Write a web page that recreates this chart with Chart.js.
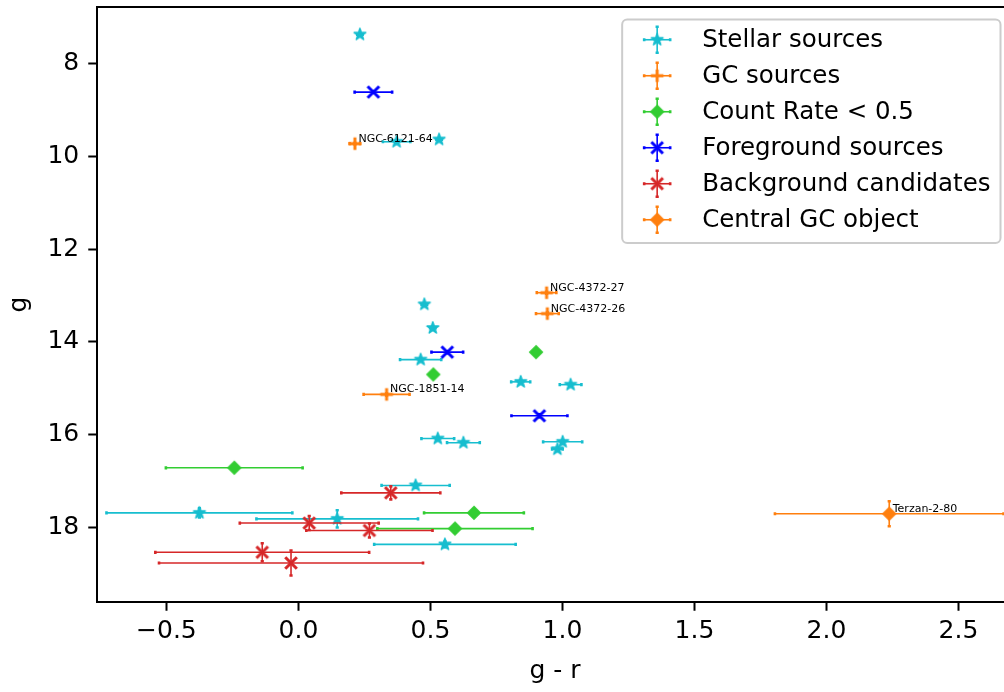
<!DOCTYPE html>
<html>
<head>
<meta charset="utf-8">
<title>g vs g - r</title>
<script src="https://cdn.jsdelivr.net/npm/chart.js@4.4.1/dist/chart.umd.min.js"></script>
<style>
  html, body { margin: 0; padding: 0; background: #fff; overflow: hidden; }
  canvas { display: block; }
</style>
</head>
<body>
<canvas id="cmd" width="1014" height="692"></canvas>
<script>
/* colour-magnitude diagram: g-r colour vs g magnitude, with errors */

// Stellar sources
const stellarX    = [0.233, 0.372, 0.533, 0.477, 0.509, 0.463, 0.842, 1.031, 0.528, 0.625, 1.001, 0.981, 0.444, -0.375, 0.147, 0.555];
const stellarY    = [7.38, 9.69, 9.64, 13.19, 13.70, 14.38, 14.86, 14.92, 16.08, 16.17, 16.15, 16.31, 17.09, 17.68, 17.81, 18.36];
const stellarXErr = [0.01, 0.052, 0.01, 0.01, 0.01, 0.078, 0.036, 0.041, 0.062, 0.062, 0.074, 0.02, 0.129, 0.352, 0.306, 0.268];
const stellarYErr = [0.01, 0.01, 0.01, 0.01, 0.01, 0.02, 0.02, 0.02, 0.03, 0.03, 0.03, 0.03, 0.05, 0.1, 0.187, 0.06];

// GC sources
const gcX     = [0.214, 0.940, 0.943, 0.334];
const gcY     = [9.73, 12.94, 13.39, 15.13];
const gcXErr  = [0.02, 0.037, 0.043, 0.087];
const gcYErr  = [0.01, 0.02, 0.02, 0.02];
const gcNames = ['NGC-6121-64', 'NGC-4372-27', 'NGC-4372-26', 'NGC-1851-14'];

// Count rate < 0.5
const crX    = [0.900, 0.511, -0.243, 0.665, 0.593];
const crY    = [14.22, 14.70, 16.71, 17.68, 18.02];
const crXErr = [0.01, 0.01, 0.259, 0.189, 0.294];
const crYErr = [0.02, 0.02, 0.05, 0.08, 0.08];

// Foreground sources
const fgX    = [0.284, 0.564, 0.913];
const fgY    = [8.62, 14.22, 15.59];
const fgXErr = [0.071, 0.06, 0.106];
const fgYErr = [0.01, 0.02, 0.03];

// Background candidates
const bgX    = [0.350, 0.041, 0.269, -0.137, -0.028];
const bgY    = [17.25, 17.90, 18.06, 18.53, 18.76];
const bgXErr = [0.1875, 0.263, 0.239, 0.405, 0.5];
const bgYErr = [0.14, 0.15, 0.15, 0.194, 0.27];

// Central GC object
const cenX     = [2.238];
const cenY     = [17.70];
const cenXErr  = [0.433];
const cenYErr  = [0.27];
const cenNames = ['Terzan-2-80'];

const xTicks = [-0.5, 0.0, 0.5, 1.0, 1.5, 2.0, 2.5];
const yTicks = [8, 10, 12, 14, 16, 18];

const FONT = 'DejaVu Sans';

// matplotlib-like marker glyphs drawn once into small canvases
function makeMarker(kind, color) {
  const c = document.createElement('canvas');
  c.width = c.height = 20;
  const ctx = c.getContext('2d');
  ctx.translate(10, 10);
  ctx.fillStyle = color;
  ctx.strokeStyle = color;
  ctx.lineWidth = 3;
  ctx.beginPath();
  if (kind === 'star') {
    const R = 6.1, r = R * 0.382;
    for (let i = 0; i < 10; i++) {
      const a = -Math.PI / 2 + i * Math.PI / 5;
      const rr = i % 2 ? r : R;
      ctx.lineTo(rr * Math.cos(a), rr * Math.sin(a));
    }
    ctx.closePath();
    ctx.lineWidth = 1.6;
    ctx.lineJoin = 'round';
    ctx.fill();
    ctx.stroke();
  } else if (kind === 'plus') {
    ctx.moveTo(-6.3, 0); ctx.lineTo(6.3, 0);
    ctx.moveTo(0, -6.3); ctx.lineTo(0, 6.3);
    ctx.stroke();
  } else if (kind === 'x') {
    ctx.moveTo(-5.8, -5.8); ctx.lineTo(5.8, 5.8);
    ctx.moveTo(-5.8, 5.8); ctx.lineTo(5.8, -5.8);
    ctx.stroke();
  } else if (kind === 'diamond') {
    const d = 6.5;
    ctx.moveTo(0, -d); ctx.lineTo(d, 0); ctx.lineTo(0, d); ctx.lineTo(-d, 0);
    ctx.closePath();
    ctx.lineWidth = 1.2;
    ctx.fill();
    ctx.stroke();
  }
  return c;
}

const series = [
  { label: 'Stellar sources',       color: '#17becf', marker: 'star',    x: stellarX, y: stellarY, xerr: stellarXErr, yerr: stellarYErr },
  { label: 'GC sources',            color: '#ff7f0e', marker: 'plus',    x: gcX,      y: gcY,      xerr: gcXErr,      yerr: gcYErr, names: gcNames },
  { label: 'Count Rate < 0.5',      color: '#32cd32', marker: 'diamond', x: crX,      y: crY,      xerr: crXErr,      yerr: crYErr },
  { label: 'Foreground sources',    color: '#0000ff', marker: 'x',       x: fgX,      y: fgY,      xerr: fgXErr,      yerr: fgYErr },
  { label: 'Background candidates', color: '#d62728', marker: 'x',       x: bgX,      y: bgY,      xerr: bgXErr,      yerr: bgYErr },
  { label: 'Central GC object',     color: '#ff7f0e', marker: 'diamond', x: cenX,     y: cenY,     xerr: cenXErr,     yerr: cenYErr, names: cenNames }
];
series.forEach(s => { s.img = makeMarker(s.marker, s.color); });

// error bar with small caps
function drawErrLine(ctx, x0, y0, x1, y1, horizontal) {
  ctx.beginPath();
  ctx.moveTo(x0, y0);
  ctx.lineTo(x1, y1);
  ctx.stroke();
  const c = 1.6;
  ctx.beginPath();
  if (horizontal) {
    ctx.moveTo(x0, y0 - c); ctx.lineTo(x0, y0 + c);
    ctx.moveTo(x1, y1 - c); ctx.lineTo(x1, y1 + c);
  } else {
    ctx.moveTo(x0 - c, y0); ctx.lineTo(x0 + c, y0);
    ctx.moveTo(x1 - c, y1); ctx.lineTo(x1 + c, y1);
  }
  ctx.save();
  ctx.lineWidth = 2.6;
  ctx.stroke();
  ctx.restore();
}

const errorBars = {
  id: 'errorBars',
  beforeDatasetDraw(chart, args) {
    const s = series[args.index];
    const { ctx, chartArea: a } = chart;
    const xs = chart.scales.x, ys = chart.scales.y;
    ctx.save();
    ctx.beginPath();
    ctx.rect(a.left, a.top, a.right - a.left, a.bottom - a.top);
    ctx.clip();
    ctx.strokeStyle = s.color;
    ctx.lineWidth = 1.6;
    s.x.forEach((xv, j) => {
      const yv = s.y[j];
      const px = xs.getPixelForValue(xv), py = ys.getPixelForValue(yv);
      drawErrLine(ctx, xs.getPixelForValue(xv - s.xerr[j]), py, xs.getPixelForValue(xv + s.xerr[j]), py, true);
      drawErrLine(ctx, px, ys.getPixelForValue(yv - s.yerr[j]), px, ys.getPixelForValue(yv + s.yerr[j]), false);
    });
    ctx.restore();
  }
};

// object names next to the GC markers, top spine and the boxed legend
const decorations = {
  id: 'decorations',
  afterDraw(chart) {
    const { ctx, chartArea: a } = chart;
    const xs = chart.scales.x, ys = chart.scales.y;
    ctx.save();

    ctx.fillStyle = '#000';
    ctx.font = '11px "' + FONT + '"';
    ctx.textAlign = 'left';
    ctx.textBaseline = 'alphabetic';
    series.forEach(s => {
      if (!s.names) return;
      s.names.forEach((n, j) => {
        ctx.fillText(n, xs.getPixelForValue(s.x[j]) + 3.5, ys.getPixelForValue(s.y[j]) - 2);
      });
    });

    ctx.strokeStyle = '#000';
    ctx.lineWidth = 2;
    ctx.beginPath();
    ctx.moveTo(a.left - 1, a.top);
    ctx.lineTo(a.right, a.top);
    ctx.stroke();

    // legend
    const fs = 25;
    ctx.font = '24.5px "' + FONT + '"';
    const textW = Math.max(...series.map(s => ctx.measureText(s.label).width));
    const pad = 0.4 * fs, handle = 2 * fs, gap = 0.8 * fs, rowH = 23.5, spacing = 0.5 * fs;
    const w = pad + handle + gap + textW + pad;
    const h = 2 * pad + series.length * rowH + (series.length - 1) * spacing;
    const right = a.right - 0.5 * fs, top = a.top + 0.5 * fs, left = right - w;
    ctx.beginPath();
    ctx.roundRect(left, top, w, h, 5);
    ctx.fillStyle = 'rgba(255,255,255,0.8)';
    ctx.fill();
    ctx.strokeStyle = '#cccccc';
    ctx.lineWidth = 2;
    ctx.stroke();

    ctx.textBaseline = 'middle';
    series.forEach((s, i) => {
      const cy = top + pad + rowH / 2 + i * (rowH + spacing) - 1.5;
      const cx = left + pad + handle / 2;
      ctx.strokeStyle = s.color;
      ctx.lineWidth = 1.6;
      drawErrLine(ctx, cx - 13, cy, cx + 13, cy, true);
      drawErrLine(ctx, cx, cy - 13, cx, cy + 13, false);
      ctx.drawImage(s.img, cx - s.img.width / 2, cy - s.img.height / 2);
      ctx.fillStyle = '#000';
      ctx.fillText(s.label, left + pad + handle + gap, cy + 1);
    });
    ctx.restore();
  }
};

const fmtX = v => v.toFixed(1).replace('-', '\u2212');

new Chart(document.getElementById('cmd'), {
  type: 'scatter',
  data: {
    datasets: series.map((s, i) => ({
      label: s.label,
      data: s.x.map((v, j) => ({ x: v, y: s.y[j] })),
      pointStyle: s.img,
      pointRadius: 6,
      backgroundColor: s.color,
      borderColor: s.color,
      order: series.length - i
    }))
  },
  options: {
    responsive: false,
    animation: false,
    devicePixelRatio: 1,
    events: [],
    layout: { autoPadding: false, padding: { top: 7, right: 1, left: 0, bottom: 0 } },
    plugins: { legend: { display: false }, tooltip: { enabled: false } },
    scales: {
      x: {
        type: 'linear',
        min: -0.7629,
        max: 2.7068,
        afterBuildTicks: sc => { sc.ticks = xTicks.map(v => ({ value: v })); },
        afterFit: sc => { sc.height = 90; sc.paddingLeft = 0; sc.paddingRight = 0; },
        ticks: { font: { family: FONT, size: 25 }, color: '#000', padding: 6, maxRotation: 0, autoSkip: false, callback: v => fmtX(v) },
        grid: { display: true, drawOnChartArea: false, drawTicks: true, tickLength: 8.75, tickWidth: 2, tickColor: '#000' },
        border: { display: true, color: '#000', width: 2 },
        title: { display: true, text: 'g - r', color: '#000', font: { family: FONT, size: 25 }, padding: { top: 0, bottom: 6 } }
      },
      y: {
        type: 'linear',
        reverse: true,
        min: 6.788,
        max: 19.60,
        afterBuildTicks: sc => { sc.ticks = yTicks.map(v => ({ value: v })); },
        afterFit: sc => { sc.width = 97; sc.paddingTop = 0; sc.paddingBottom = 0; },
        ticks: { font: { family: FONT, size: 25 }, color: '#000', padding: 9, autoSkip: false, callback: v => String(v) },
        grid: { display: true, drawOnChartArea: false, drawTicks: true, tickLength: 8.75, tickWidth: 2, tickColor: '#000' },
        border: { display: true, color: '#000', width: 2 },
        title: { display: true, text: 'g', color: '#000', font: { family: FONT, size: 25 }, padding: { top: 4, bottom: 0 } }
      }
    }
  },
  plugins: [errorBars, decorations]
});
</script>
</body>
</html>
